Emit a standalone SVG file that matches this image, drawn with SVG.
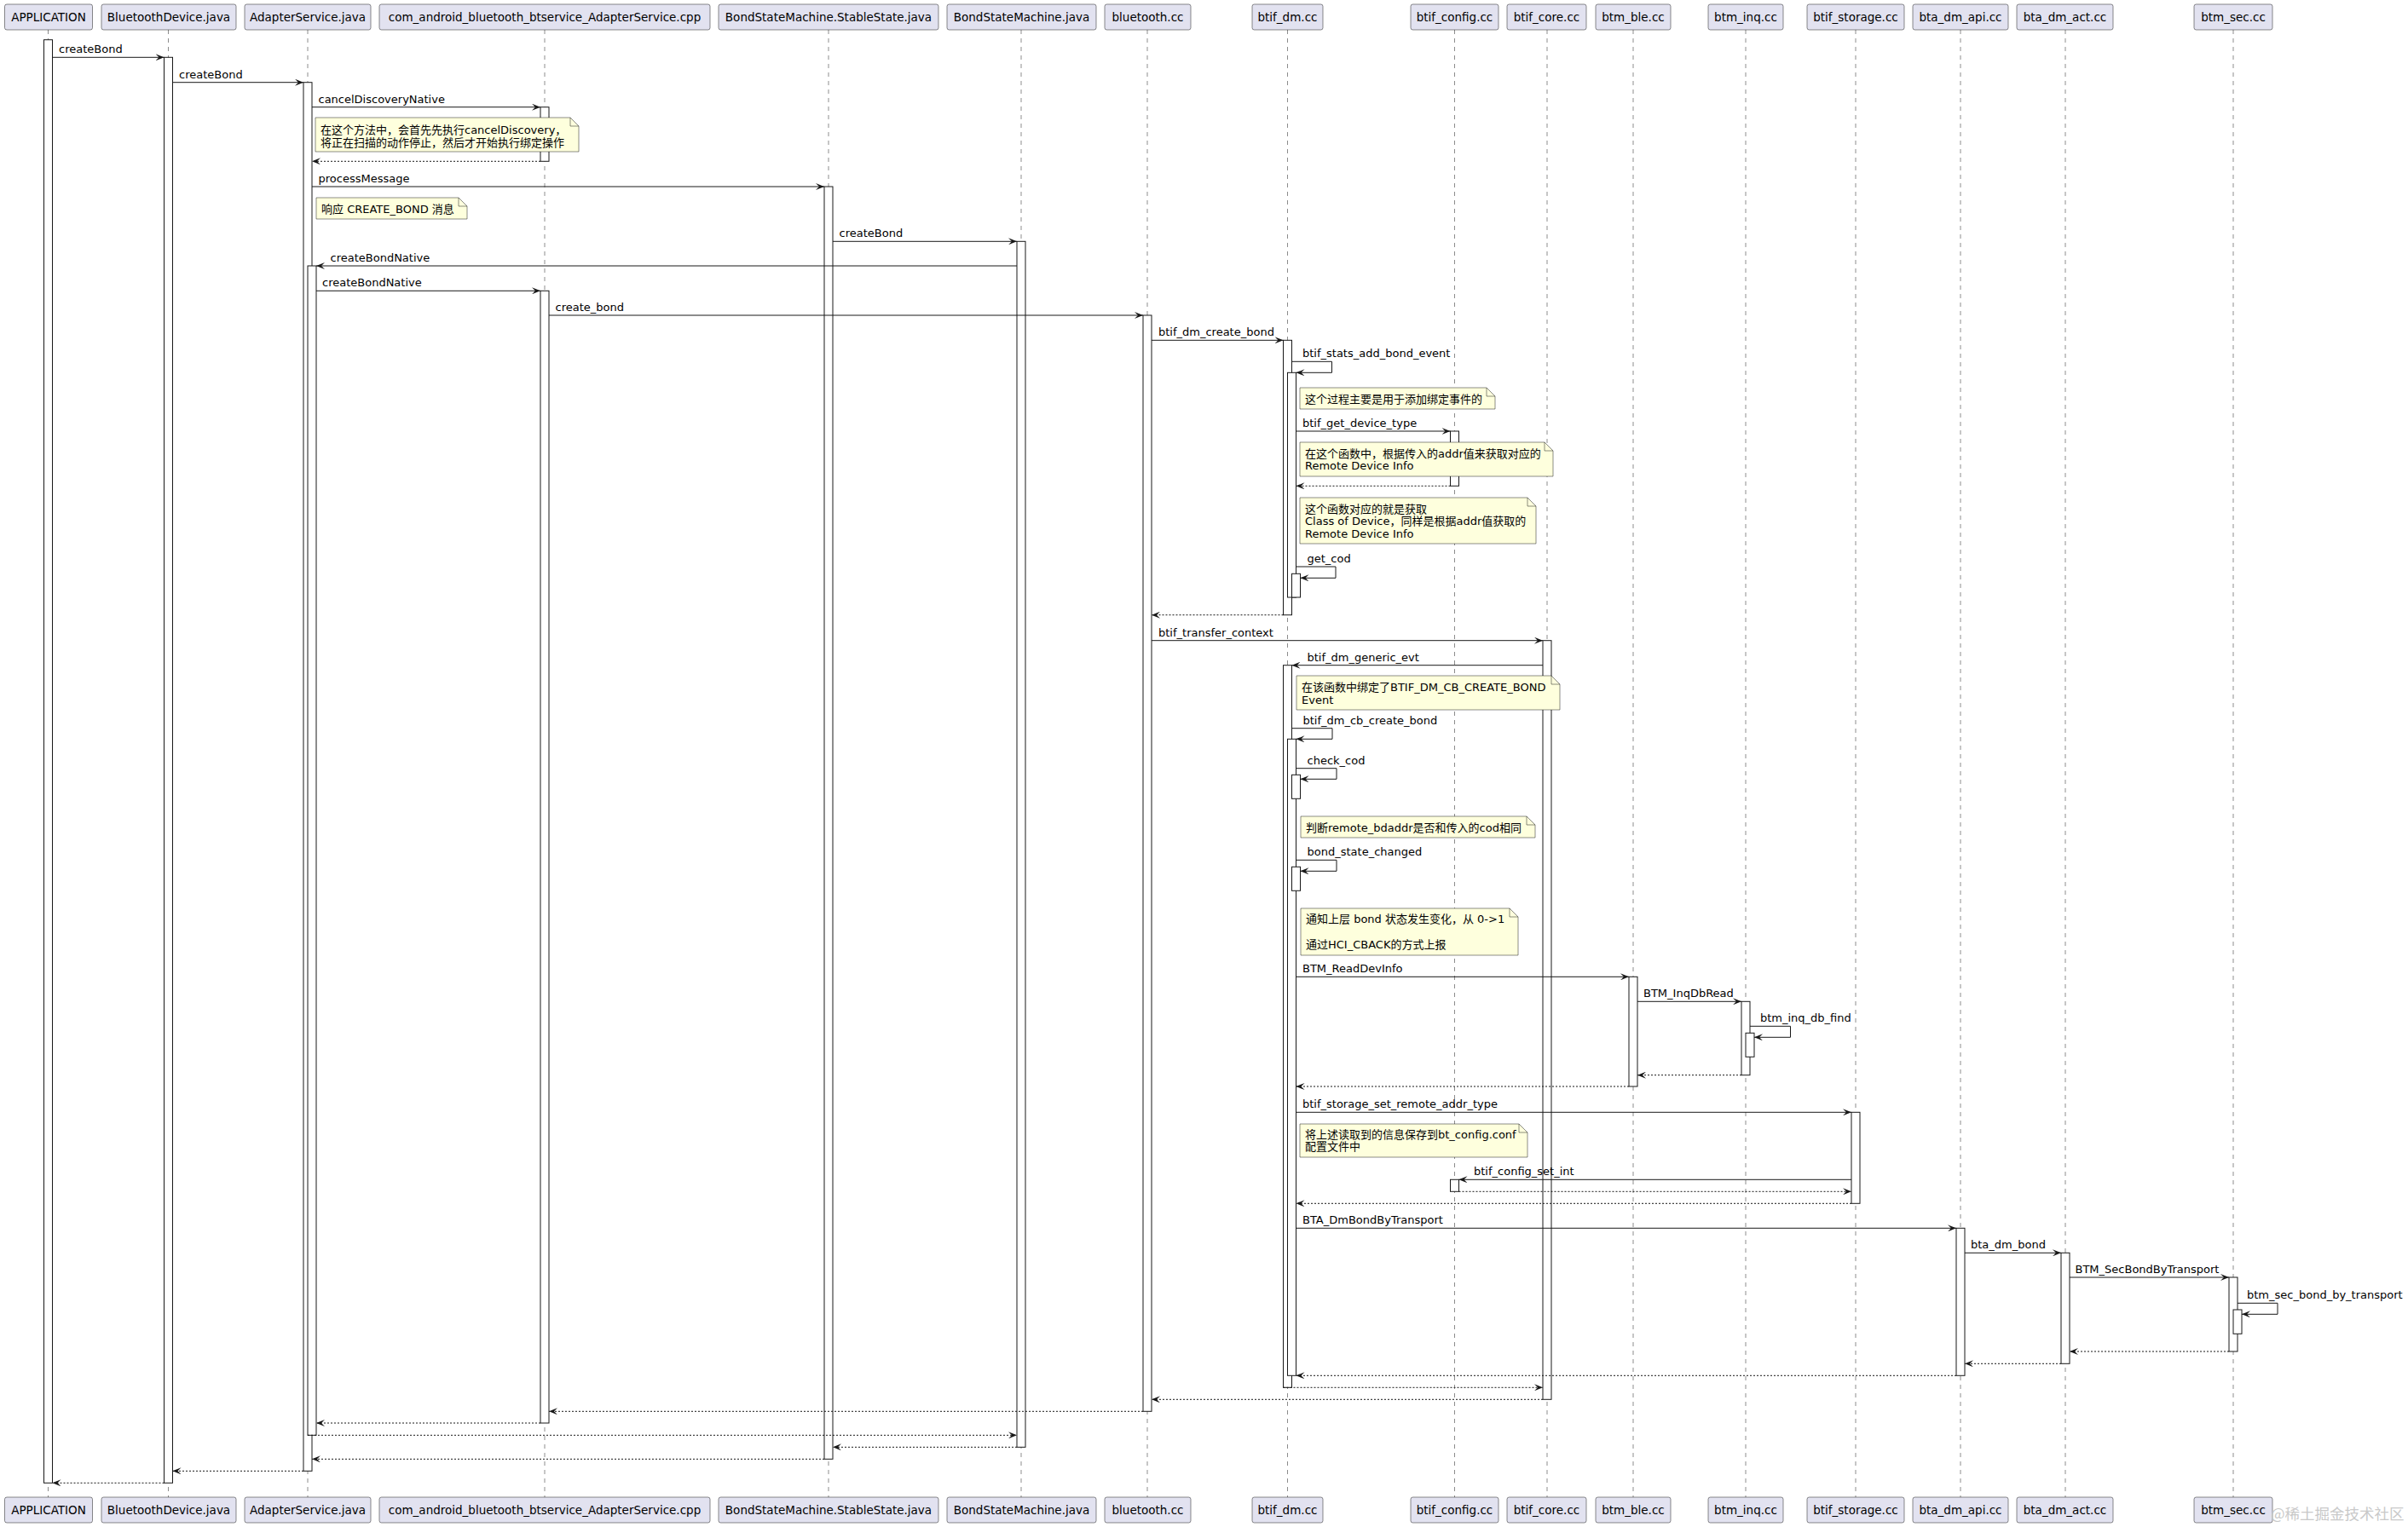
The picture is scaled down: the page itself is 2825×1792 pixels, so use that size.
<svg xmlns="http://www.w3.org/2000/svg" width="2825" height="1792" viewBox="0 0 2825 1792">
<style>
.bg{fill:#ffffff}
.pbox{fill:#E2E2F0;stroke:#181818;stroke-width:0.5}
.pt{font-family:"DejaVu Sans","Noto Sans CJK SC",sans-serif;font-size:13.5px;fill:#000;text-anchor:middle}
.ll{stroke:#181818;stroke-width:0.5;stroke-dasharray:5,5;fill:none}
.act{fill:#ffffff;stroke:#181818;stroke-width:1}
.m{stroke:#181818;stroke-width:1;fill:none}
.r{stroke:#181818;stroke-width:1;fill:none;stroke-dasharray:2,2}
.t{font-family:"DejaVu Sans","Noto Sans CJK SC",sans-serif;font-size:13px;fill:#000}
.note{fill:#FEFFDD;stroke:#181818;stroke-width:0.5}
.fold{fill:none;stroke:#181818;stroke-width:0.5}
.wm{font-family:"Noto Sans CJK SC",sans-serif;font-size:17.5px;fill:#c9c9c9}
</style>
<defs>
<marker id="ah" viewBox="0 0 10 8" refX="10" refY="4" markerWidth="10" markerHeight="8" markerUnits="userSpaceOnUse" orient="auto">
<path d="M0,0 L10,4 L0,8 L4,4 Z" fill="#181818"/>
</marker>
</defs>
<rect class="bg" x="0" y="0" width="2825" height="1792"/>

<g id="lifelines">
<line class="ll" x1="56.5" y1="35" x2="56.5" y2="1757"/>
<line class="ll" x1="197.5" y1="35" x2="197.5" y2="1757"/>
<line class="ll" x1="361" y1="35" x2="361" y2="1757"/>
<line class="ll" x1="639" y1="35" x2="639" y2="1757"/>
<line class="ll" x1="972" y1="35" x2="972" y2="1757"/>
<line class="ll" x1="1198" y1="35" x2="1198" y2="1757"/>
<line class="ll" x1="1346" y1="35" x2="1346" y2="1757"/>
<line class="ll" x1="1510.5" y1="35" x2="1510.5" y2="1757"/>
<line class="ll" x1="1706.5" y1="35" x2="1706.5" y2="1757"/>
<line class="ll" x1="1815" y1="35" x2="1815" y2="1757"/>
<line class="ll" x1="1916" y1="35" x2="1916" y2="1757"/>
<line class="ll" x1="2048" y1="35" x2="2048" y2="1757"/>
<line class="ll" x1="2177" y1="35" x2="2177" y2="1757"/>
<line class="ll" x1="2300" y1="35" x2="2300" y2="1757"/>
<line class="ll" x1="2423" y1="35" x2="2423" y2="1757"/>
<line class="ll" x1="2620" y1="35" x2="2620" y2="1757"/>
</g>

<g id="p-application">
<rect class="pbox" x="5.5" y="5" width="103" height="30" rx="2.5"/><text class="pt" x="57" y="25">APPLICATION</text>
<rect class="pbox" x="5.5" y="1757" width="103" height="30" rx="2.5"/><text class="pt" x="57" y="1777">APPLICATION</text>
<rect class="act" x="51.5" y="46.7" width="10" height="1693.6"/>
</g>
<g id="p-bluetoothdevice">
<rect class="pbox" x="119" y="5" width="158" height="30" rx="2.5"/><text class="pt" x="198" y="25">BluetoothDevice.java</text>
<rect class="pbox" x="119" y="1757" width="158" height="30" rx="2.5"/><text class="pt" x="198" y="1777">BluetoothDevice.java</text>
<rect class="act" x="192.5" y="67.3" width="10" height="1673"/>
</g>
<g id="p-adapterservice">
<rect class="pbox" x="287" y="5" width="148" height="30" rx="2.5"/><text class="pt" x="361" y="25">AdapterService.java</text>
<rect class="pbox" x="287" y="1757" width="148" height="30" rx="2.5"/><text class="pt" x="361" y="1777">AdapterService.java</text>
<rect class="act" x="356" y="96.7" width="10" height="1629.6"/>
<rect class="act" x="361" y="312" width="10" height="1372.3"/>
</g>
<g id="p-cpp">
<rect class="pbox" x="445" y="5" width="388" height="30" rx="2.5"/><text class="pt" x="639" y="25">com_android_bluetooth_btservice_AdapterService.cpp</text>
<rect class="pbox" x="445" y="1757" width="388" height="30" rx="2.5"/><text class="pt" x="639" y="1777">com_android_bluetooth_btservice_AdapterService.cpp</text>
<rect class="act" x="634" y="125.7" width="10" height="63.6"/>
<rect class="act" x="634" y="341.3" width="10" height="1328.7"/>
</g>
<g id="p-stablestate">
<rect class="pbox" x="843" y="5" width="258" height="30" rx="2.5"/><text class="pt" x="972" y="25">BondStateMachine.StableState.java</text>
<rect class="pbox" x="843" y="1757" width="258" height="30" rx="2.5"/><text class="pt" x="972" y="1777">BondStateMachine.StableState.java</text>
<rect class="act" x="967" y="219" width="10" height="1493.3"/>
</g>
<g id="p-bondstatemachine">
<rect class="pbox" x="1111" y="5" width="175" height="30" rx="2.5"/><text class="pt" x="1198.5" y="25">BondStateMachine.java</text>
<rect class="pbox" x="1111" y="1757" width="175" height="30" rx="2.5"/><text class="pt" x="1198.5" y="1777">BondStateMachine.java</text>
<rect class="act" x="1193" y="283.3" width="10" height="1415"/>
</g>
<g id="p-bluetooth">
<rect class="pbox" x="1296" y="5" width="101" height="30" rx="2.5"/><text class="pt" x="1346.5" y="25">bluetooth.cc</text>
<rect class="pbox" x="1296" y="1757" width="101" height="30" rx="2.5"/><text class="pt" x="1346.5" y="1777">bluetooth.cc</text>
<rect class="act" x="1341" y="370" width="10" height="1286.3"/>
</g>
<g id="p-btif-dm">
<rect class="pbox" x="1469" y="5" width="83" height="30" rx="2.5"/><text class="pt" x="1510.5" y="25">btif_dm.cc</text>
<rect class="pbox" x="1469" y="1757" width="83" height="30" rx="2.5"/><text class="pt" x="1510.5" y="1777">btif_dm.cc</text>
<rect class="act" x="1505.5" y="399.3" width="10" height="322.4"/>
<rect class="act" x="1510.5" y="437.3" width="10" height="263.7"/>
<rect class="act" x="1515.5" y="673.3" width="10" height="27.7"/>
<rect class="act" x="1505.5" y="780.7" width="10" height="847.6"/>
<rect class="act" x="1510.5" y="867.3" width="10" height="747"/>
<rect class="act" x="1515.5" y="909.3" width="10" height="28"/>
<rect class="act" x="1515.5" y="1017.3" width="10" height="28"/>
</g>
<g id="p-btif-config">
<rect class="pbox" x="1655" y="5" width="103" height="30" rx="2.5"/><text class="pt" x="1706.5" y="25">btif_config.cc</text>
<rect class="pbox" x="1655" y="1757" width="103" height="30" rx="2.5"/><text class="pt" x="1706.5" y="1777">btif_config.cc</text>
<rect class="act" x="1701.5" y="506" width="10" height="64.3"/>
<rect class="act" x="1701.5" y="1384.3" width="10" height="14"/>
</g>
<g id="p-btif-core">
<rect class="pbox" x="1768" y="5" width="93" height="30" rx="2.5"/><text class="pt" x="1814.5" y="25">btif_core.cc</text>
<rect class="pbox" x="1768" y="1757" width="93" height="30" rx="2.5"/><text class="pt" x="1814.5" y="1777">btif_core.cc</text>
<rect class="act" x="1810" y="751.7" width="10" height="890.6"/>
</g>
<g id="p-btm-ble">
<rect class="pbox" x="1872" y="5" width="88" height="30" rx="2.5"/><text class="pt" x="1916" y="25">btm_ble.cc</text>
<rect class="pbox" x="1872" y="1757" width="88" height="30" rx="2.5"/><text class="pt" x="1916" y="1777">btm_ble.cc</text>
<rect class="act" x="1911" y="1146.3" width="10" height="128.7"/>
</g>
<g id="p-btm-inq">
<rect class="pbox" x="2004" y="5" width="88" height="30" rx="2.5"/><text class="pt" x="2048" y="25">btm_inq.cc</text>
<rect class="pbox" x="2004" y="1757" width="88" height="30" rx="2.5"/><text class="pt" x="2048" y="1777">btm_inq.cc</text>
<rect class="act" x="2043" y="1175.3" width="10" height="86.4"/>
<rect class="act" x="2048" y="1212.3" width="10" height="28"/>
</g>
<g id="p-btif-storage">
<rect class="pbox" x="2120" y="5" width="114" height="30" rx="2.5"/><text class="pt" x="2177" y="25">btif_storage.cc</text>
<rect class="pbox" x="2120" y="1757" width="114" height="30" rx="2.5"/><text class="pt" x="2177" y="1777">btif_storage.cc</text>
<rect class="act" x="2172" y="1305.3" width="10" height="107"/>
</g>
<g id="p-bta-dm-api">
<rect class="pbox" x="2244" y="5" width="112" height="30" rx="2.5"/><text class="pt" x="2300" y="25">bta_dm_api.cc</text>
<rect class="pbox" x="2244" y="1757" width="112" height="30" rx="2.5"/><text class="pt" x="2300" y="1777">bta_dm_api.cc</text>
<rect class="act" x="2295" y="1441.3" width="10" height="173"/>
</g>
<g id="p-bta-dm-act">
<rect class="pbox" x="2366" y="5" width="113" height="30" rx="2.5"/><text class="pt" x="2422.5" y="25">bta_dm_act.cc</text>
<rect class="pbox" x="2366" y="1757" width="113" height="30" rx="2.5"/><text class="pt" x="2422.5" y="1777">bta_dm_act.cc</text>
<rect class="act" x="2418" y="1470.3" width="10" height="130"/>
</g>
<g id="p-btm-sec">
<rect class="pbox" x="2574" y="5" width="92" height="30" rx="2.5"/><text class="pt" x="2620" y="25">btm_sec.cc</text>
<rect class="pbox" x="2574" y="1757" width="92" height="30" rx="2.5"/><text class="pt" x="2620" y="1777">btm_sec.cc</text>
<rect class="act" x="2615" y="1499" width="10" height="87"/>
<rect class="act" x="2620" y="1537" width="10" height="28.3"/>
</g>

<g id="connectors">
<line class="m" x1="61.5" y1="67.3" x2="192.5" y2="67.3" marker-end="url(#ah)"/><text class="t" x="69" y="62.3">createBond</text>
<line class="m" x1="202.5" y1="96.7" x2="356" y2="96.7" marker-end="url(#ah)"/><text class="t" x="210" y="91.7">createBond</text>
<line class="m" x1="366" y1="125.7" x2="634" y2="125.7" marker-end="url(#ah)"/><text class="t" x="373.5" y="120.7">cancelDiscoveryNative</text>
<line class="r" x1="634" y1="189.3" x2="366" y2="189.3" marker-end="url(#ah)"/>
<line class="m" x1="366" y1="219" x2="967" y2="219" marker-end="url(#ah)"/><text class="t" x="373.5" y="214">processMessage</text>
<line class="m" x1="977" y1="283.3" x2="1193" y2="283.3" marker-end="url(#ah)"/><text class="t" x="984.5" y="278.3">createBond</text>
<line class="m" x1="1193" y1="312" x2="371" y2="312" marker-end="url(#ah)"/><text class="t" x="387.5" y="307">createBondNative</text>
<line class="m" x1="371" y1="341.3" x2="634" y2="341.3" marker-end="url(#ah)"/><text class="t" x="378" y="336.3">createBondNative</text>
<line class="m" x1="644" y1="370" x2="1341" y2="370" marker-end="url(#ah)"/><text class="t" x="651.5" y="365">create_bond</text>
<line class="m" x1="1351" y1="399.3" x2="1505.5" y2="399.3" marker-end="url(#ah)"/><text class="t" x="1359" y="394.3">btif_dm_create_bond</text>
<polyline class="m" points="1515.5,424.3 1562.5,424.3 1562.5,437.3 1520.5,437.3" marker-end="url(#ah)"/><text class="t" x="1528" y="419">btif_stats_add_bond_event</text>
<line class="m" x1="1520.5" y1="506" x2="1701.5" y2="506" marker-end="url(#ah)"/><text class="t" x="1528" y="501">btif_get_device_type</text>
<line class="r" x1="1701.5" y1="570.3" x2="1520.5" y2="570.3" marker-end="url(#ah)"/>
<polyline class="m" points="1520.5,665 1567,665 1567,678.3 1525.5,678.3" marker-end="url(#ah)"/><text class="t" x="1533.5" y="660">get_cod</text>
<line class="r" x1="1505.5" y1="721.7" x2="1351" y2="721.7" marker-end="url(#ah)"/>
<line class="m" x1="1351" y1="751.7" x2="1810" y2="751.7" marker-end="url(#ah)"/><text class="t" x="1359" y="746.7">btif_transfer_context</text>
<line class="m" x1="1810" y1="780.7" x2="1515.5" y2="780.7" marker-end="url(#ah)"/><text class="t" x="1533.5" y="775.7">btif_dm_generic_evt</text>
<polyline class="m" points="1515.5,854.7 1563,854.7 1563,867.3 1520.5,867.3" marker-end="url(#ah)"/><text class="t" x="1528.5" y="849.7">btif_dm_cb_create_bond</text>
<polyline class="m" points="1520.5,901.7 1568,901.7 1568,914.3 1525.5,914.3" marker-end="url(#ah)"/><text class="t" x="1533.5" y="896.7">check_cod</text>
<polyline class="m" points="1520.5,1009.3 1568,1009.3 1568,1022.3 1525.5,1022.3" marker-end="url(#ah)"/><text class="t" x="1533.5" y="1004.3">bond_state_changed</text>
<line class="m" x1="1520.5" y1="1146.3" x2="1911" y2="1146.3" marker-end="url(#ah)"/><text class="t" x="1528" y="1141.3">BTM_ReadDevInfo</text>
<line class="m" x1="1921" y1="1175.3" x2="2043" y2="1175.3" marker-end="url(#ah)"/><text class="t" x="1928" y="1170.3">BTM_InqDbRead</text>
<polyline class="m" points="2053,1204.3 2100.5,1204.3 2100.5,1217.3 2058,1217.3" marker-end="url(#ah)"/><text class="t" x="2065" y="1199.3">btm_inq_db_find</text>
<line class="r" x1="2043" y1="1261.7" x2="1921" y2="1261.7" marker-end="url(#ah)"/>
<line class="r" x1="1911" y1="1275" x2="1520.5" y2="1275" marker-end="url(#ah)"/>
<line class="m" x1="1520.5" y1="1305.3" x2="2172" y2="1305.3" marker-end="url(#ah)"/><text class="t" x="1528" y="1300.3">btif_storage_set_remote_addr_type</text>
<line class="m" x1="2172" y1="1384.3" x2="1711.5" y2="1384.3" marker-end="url(#ah)"/><text class="t" x="1729" y="1379.3">btif_config_set_int</text>
<line class="r" x1="1711.5" y1="1398.3" x2="2172" y2="1398.3" marker-end="url(#ah)"/>
<line class="r" x1="2172" y1="1412.3" x2="1520.5" y2="1412.3" marker-end="url(#ah)"/>
<line class="m" x1="1520.5" y1="1441.3" x2="2295" y2="1441.3" marker-end="url(#ah)"/><text class="t" x="1528" y="1436.3">BTA_DmBondByTransport</text>
<line class="m" x1="2305" y1="1470.3" x2="2418" y2="1470.3" marker-end="url(#ah)"/><text class="t" x="2312" y="1465.3">bta_dm_bond</text>
<line class="m" x1="2428" y1="1499" x2="2615" y2="1499" marker-end="url(#ah)"/><text class="t" x="2434.5" y="1494">BTM_SecBondByTransport</text>
<polyline class="m" points="2625,1529.3 2672,1529.3 2672,1542.3 2630,1542.3" marker-end="url(#ah)"/><text class="t" x="2636" y="1524.3">btm_sec_bond_by_transport</text>
<line class="r" x1="2615" y1="1586" x2="2428" y2="1586" marker-end="url(#ah)"/>
<line class="r" x1="2418" y1="1600.3" x2="2305" y2="1600.3" marker-end="url(#ah)"/>
<line class="r" x1="2295" y1="1614.3" x2="1520.5" y2="1614.3" marker-end="url(#ah)"/>
<line class="r" x1="1505.5" y1="1628.3" x2="1810" y2="1628.3" marker-end="url(#ah)"/>
<line class="r" x1="1810" y1="1642.3" x2="1351" y2="1642.3" marker-end="url(#ah)"/>
<line class="r" x1="1341" y1="1656.3" x2="644" y2="1656.3" marker-end="url(#ah)"/>
<line class="r" x1="634" y1="1670" x2="371" y2="1670" marker-end="url(#ah)"/>
<line class="r" x1="361" y1="1684.3" x2="1193" y2="1684.3" marker-end="url(#ah)"/>
<line class="r" x1="1193" y1="1698.3" x2="977" y2="1698.3" marker-end="url(#ah)"/>
<line class="r" x1="967" y1="1712.3" x2="366" y2="1712.3" marker-end="url(#ah)"/>
<line class="r" x1="356" y1="1726.3" x2="202.5" y2="1726.3" marker-end="url(#ah)"/>
<line class="r" x1="192.5" y1="1740.3" x2="61.5" y2="1740.3" marker-end="url(#ah)"/>
</g>

<g id="note-1">
<path class="note" d="M370,138 H669 L679,148 V178 H370 Z"/><path class="fold" d="M669,138 V148 H679"/>
<text class="t" x="376" y="156.5">在这个方法中，会首先先执行cancelDiscovery，</text>
<text class="t" x="376" y="172">将正在扫描的动作停止，然后才开始执行绑定操作</text>
</g>
<g id="note-2">
<path class="note" d="M371,232 H538 L548,242 V257 H371 Z"/><path class="fold" d="M538,232 V242 H548"/>
<text class="t" x="377" y="249.5">响应 CREATE_BOND 消息</text>
</g>
<g id="note-3">
<path class="note" d="M1525,455 H1744 L1754,465 V480 H1525 Z"/><path class="fold" d="M1744,455 V465 H1754"/>
<text class="t" x="1531" y="472.5">这个过程主要是用于添加绑定事件的</text>
</g>
<g id="note-4">
<path class="note" d="M1525,519 H1812 L1822,529 V559 H1525 Z"/><path class="fold" d="M1812,519 V529 H1822"/>
<text class="t" x="1531" y="536.5">在这个函数中，根据传入的addr值来获取对应的</text>
<text class="t" x="1531" y="551">Remote Device Info</text>
</g>
<g id="note-5">
<path class="note" d="M1525,584 H1792 L1802,594 V638 H1525 Z"/><path class="fold" d="M1792,584 V594 H1802"/>
<text class="t" x="1531" y="601.5">这个函数对应的就是获取</text>
<text class="t" x="1531" y="616">Class of Device，同样是根据addr值获取的</text>
<text class="t" x="1531" y="630.5">Remote Device Info</text>
</g>
<g id="note-6">
<path class="note" d="M1521,793 H1820 L1830,803 V833 H1521 Z"/><path class="fold" d="M1820,793 V803 H1830"/>
<text class="t" x="1527" y="810.5">在该函数中绑定了BTIF_DM_CB_CREATE_BOND</text>
<text class="t" x="1527" y="826">Event</text>
</g>
<g id="note-7">
<path class="note" d="M1526,958 H1791 L1801,968 V983 H1526 Z"/><path class="fold" d="M1791,958 V968 H1801"/>
<text class="t" x="1532" y="975.5">判断remote_bdaddr是否和传入的cod相同</text>
</g>
<g id="note-8">
<path class="note" d="M1526,1066 H1771 L1781,1076 V1121 H1526 Z"/><path class="fold" d="M1771,1066 V1076 H1781"/>
<text class="t" x="1532" y="1082.5">通知上层 bond 状态发生变化，从 0-&gt;1</text>
<text class="t" x="1532" y="1112.5">通过HCI_CBACK的方式上报</text>
</g>
<g id="note-9">
<path class="note" d="M1525,1319 H1782 L1792,1329 V1358 H1525 Z"/><path class="fold" d="M1782,1319 V1329 H1792"/>
<text class="t" x="1531" y="1335.5">将上述读取到的信息保存到bt_config.conf</text>
<text class="t" x="1531" y="1350">配置文件中</text>
</g>

<text class="wm" x="2664" y="1783">@稀土掘金技术社区</text>
</svg>
